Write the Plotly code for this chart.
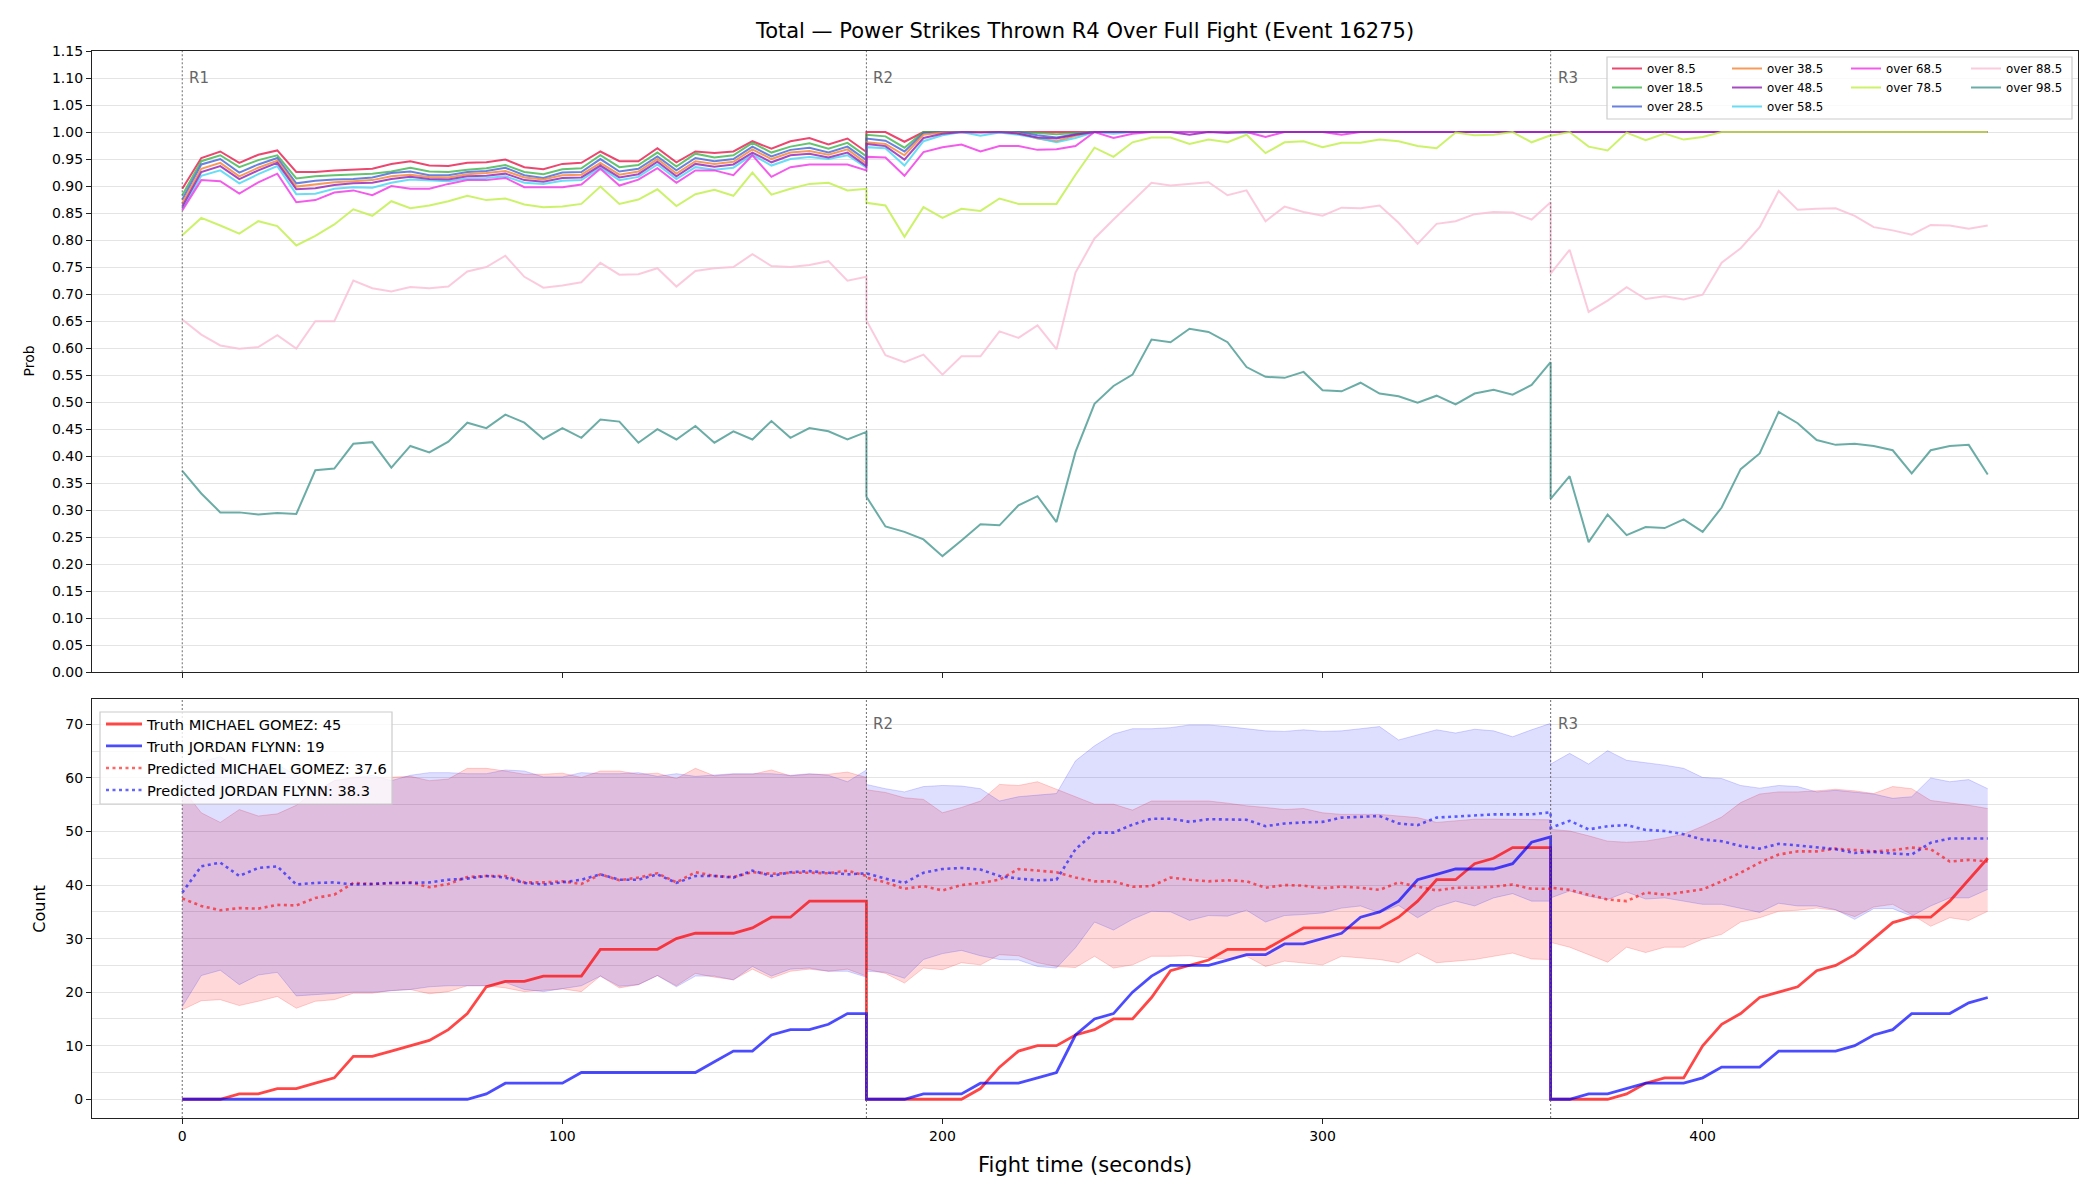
import plotly.graph_objects as go

# ---------------- data ----------------
time_s = list(range(0, 181, 5)) + list(range(180, 361, 5)) + list(range(360, 476, 5))
round_starts = [0, 180, 360]
round_labels = ["R1", "R2", "R3"]

threshold_names = ["over 8.5", "over 18.5", "over 28.5", "over 38.5", "over 48.5",
                   "over 58.5", "over 68.5", "over 78.5", "over 88.5", "over 98.5"]

over_8_5 = [.895,.952,.964,.943,.958,.966,.926,.926,.929,.931,.932,.941,.946,.938,.937,.943,.944,.949,.935,.931,.941,.943,.964,.946,.946,.970,.944,.964,.961,.964,.983,.969,.983,.989,.977,.988,.963,
            1.0,1.0,.982,1.0,1.0,1.0,1.0,1.0,1.0,1.0,1.0,1.0,1.0,1.0,1.0,1.0,1.0,1.0,1.0,1.0,1.0,1.0,1.0,1.0,1.0,1.0,1.0,1.0,1.0,1.0,1.0,1.0,1.0,1.0,1.0,1.0,1.0,
            1.0,1.0,1.0,1.0,1.0,1.0,1.0,1.0,1.0,1.0,1.0,1.0,1.0,1.0,1.0,1.0,1.0,1.0,1.0,1.0,1.0,1.0,1.0,1.0]
over_18_5 = [.883,.946,.957,.935,.948,.957,.914,.918,.920,.921,.923,.927,.934,.927,.926,.930,.933,.939,.926,.922,.931,.933,.957,.935,.939,.962,.936,.960,.953,.957,.980,.962,.973,.979,.969,.980,.955,
             .995,.992,.971,1.0,1.0,1.0,1.0,1.0,1.0,.998,.996,.998,1.0,1.0,1.0,1.0,1.0,1.0,1.0,1.0,1.0,1.0,1.0,1.0,1.0,1.0,1.0,1.0,1.0,1.0,1.0,1.0,1.0,1.0,1.0,1.0,1.0,
             1.0,1.0,1.0,1.0,1.0,1.0,1.0,1.0,1.0,1.0,1.0,1.0,1.0,1.0,1.0,1.0,1.0,1.0,1.0,1.0,1.0,1.0,1.0,1.0]
over_28_5 = [.875,.940,.950,.925,.940,.952,.905,.910,.912,.913,.916,.924,.927,.920,.920,.926,.928,.934,.920,.915,.925,.926,.950,.927,.932,.955,.929,.952,.946,.950,.973,.955,.967,.971,.962,.973,.948,
             .988,.984,.964,.998,1.0,1.0,1.0,1.0,1.0,.994,.990,.996,1.0,1.0,1.0,1.0,1.0,1.0,1.0,1.0,1.0,1.0,1.0,1.0,1.0,1.0,1.0,1.0,1.0,1.0,1.0,1.0,1.0,1.0,1.0,1.0,1.0,
             1.0,1.0,1.0,1.0,1.0,1.0,1.0,1.0,1.0,1.0,1.0,1.0,1.0,1.0,1.0,1.0,1.0,1.0,1.0,1.0,1.0,1.0,1.0,1.0]
over_38_5 = [.868,.932,.943,.918,.934,.947,.899,.903,.907,.909,.911,.918,.921,.917,.916,.922,.924,.928,.916,.912,.920,.921,.943,.921,.927,.950,.923,.946,.941,.945,.968,.950,.962,.965,.958,.968,.942,
             .981,.978,.957,.995,.999,1.0,1.0,1.0,.998,.988,.983,.993,1.0,1.0,1.0,1.0,1.0,1.0,1.0,1.0,1.0,1.0,1.0,1.0,1.0,1.0,1.0,1.0,1.0,1.0,1.0,1.0,1.0,1.0,1.0,1.0,1.0,
             1.0,1.0,1.0,1.0,1.0,1.0,1.0,1.0,1.0,1.0,1.0,1.0,1.0,1.0,1.0,1.0,1.0,1.0,1.0,1.0,1.0,1.0,1.0,1.0]
over_48_5 = [.862,.926,.937,.913,.929,.943,.894,.896,.902,.905,.906,.913,.917,.913,.912,.918,.919,.923,.911,.908,.915,.916,.938,.916,.922,.945,.918,.941,.936,.940,.962,.944,.957,.960,.953,.962,.937,
             .978,.974,.949,.989,.997,1.0,.999,1.0,.997,.990,.988,.995,1.0,1.0,1.0,1.0,1.0,.995,1.0,.998,1.0,1.0,1.0,1.0,1.0,1.0,1.0,1.0,1.0,1.0,1.0,1.0,1.0,1.0,1.0,1.0,1.0,
             1.0,1.0,1.0,1.0,1.0,1.0,1.0,1.0,1.0,1.0,1.0,1.0,1.0,1.0,1.0,1.0,1.0,1.0,1.0,1.0,1.0,1.0,1.0,1.0]
over_58_5 = [.858,.919,.929,.905,.922,.937,.885,.886,.895,.898,.897,.906,.912,.910,.909,.914,.915,.918,.906,.904,.910,.911,.934,.911,.917,.940,.913,.935,.930,.934,.958,.938,.950,.954,.950,.957,.934,
             .972,.970,.938,.983,.994,1.0,.993,.999,.995,.989,.981,.989,1.0,.997,1.0,1.0,1.0,1.0,1.0,1.0,.998,1.0,1.0,1.0,1.0,1.0,1.0,1.0,1.0,1.0,1.0,1.0,1.0,1.0,1.0,1.0,1.0,
             1.0,1.0,1.0,1.0,1.0,1.0,1.0,1.0,1.0,1.0,1.0,1.0,1.0,1.0,1.0,1.0,1.0,1.0,1.0,1.0,1.0,1.0,1.0,1.0]
over_68_5 = [.855,.911,.909,.886,.907,.923,.870,.874,.888,.892,.883,.900,.895,.895,.904,.911,.911,.915,.898,.898,.898,.903,.932,.901,.912,.933,.906,.929,.929,.920,.957,.917,.935,.940,.940,.940,.929,
             .954,.953,.919,.963,.972,.977,.964,.974,.974,.967,.968,.974,1.0,.989,.997,1.0,1.0,1.0,1.0,1.0,1.0,.991,1.0,1.0,1.0,.995,1.0,1.0,1.0,1.0,1.0,1.0,1.0,1.0,1.0,1.0,1.0,
             1.0,1.0,1.0,1.0,1.0,1.0,1.0,1.0,1.0,1.0,1.0,1.0,1.0,1.0,1.0,1.0,1.0,1.0,1.0,1.0,1.0,1.0,1.0,1.0]
over_78_5 = [.809,.841,.827,.812,.835,.826,.790,.808,.829,.857,.845,.872,.859,.864,.872,.882,.874,.877,.866,.861,.862,.867,.899,.867,.875,.894,.863,.885,.893,.882,.925,.884,.895,.904,.906,.892,.895,
             .869,.864,.806,.861,.841,.858,.854,.877,.867,.867,.867,.921,.971,.954,.981,.990,.990,.978,.986,.981,.995,.961,.981,.983,.972,.980,.980,.986,.983,.974,.970,.999,.994,.995,1.0,.981,.994,
             .993,1.0,.973,.966,.999,.985,.997,.986,.991,1.0,1.0,1.0,1.0,1.0,1.0,1.0,1.0,1.0,1.0,1.0,1.0,1.0,1.0,1.0]
over_88_5 = [.653,.625,.605,.599,.602,.624,.599,.650,.650,.725,.711,.705,.713,.711,.714,.742,.750,.771,.732,.712,.716,.722,.758,.736,.737,.748,.714,.743,.748,.750,.774,.752,.750,.754,.761,.725,.732,
             .651,.587,.574,.588,.551,.585,.585,.631,.619,.642,.598,.740,.803,.838,.872,.906,.901,.904,.907,.883,.892,.835,.862,.852,.845,.860,.859,.864,.832,.793,.830,.835,.848,.852,.851,.838,.870,
             .738,.782,.667,.688,.713,.691,.696,.690,.699,.758,.785,.824,.891,.856,.858,.859,.845,.824,.818,.810,.828,.827,.821,.827]
over_98_5 = [.373,.331,.296,.296,.292,.295,.293,.374,.377,.423,.426,.379,.419,.407,.427,.462,.452,.477,.462,.432,.452,.434,.468,.464,.425,.450,.431,.456,.425,.446,.431,.465,.434,.452,.446,.431,.445,
             .325,.270,.260,.246,.215,.244,.274,.272,.309,.326,.278,.408,.497,.530,.551,.616,.611,.636,.630,.611,.565,.547,.545,.556,.522,.520,.536,.516,.511,.499,.512,.496,.516,.523,.514,.532,.574,
             .321,.363,.241,.292,.254,.269,.267,.283,.260,.305,.376,.405,.482,.461,.430,.421,.423,.419,.411,.368,.411,.419,.421,.366]

truth_gomez = [0,0,0,1,1,2,2,3,4,8,8,9,10,11,13,16,21,22,22,23,23,23,28,28,28,28,30,31,31,31,32,34,34,37,37,37,37,
               0,0,0,0,0,0,2,6,9,10,10,12,13,15,15,19,24,25,26,28,28,28,30,32,32,32,32,32,34,37,41,41,44,45,47,47,47,
               0,0,0,0,1,3,4,4,10,14,16,19,20,21,24,25,27,30,33,34,34,37,41,45]
truth_flynn = [0,0,0,0,0,0,0,0,0,0,0,0,0,0,0,0,1,3,3,3,3,5,5,5,5,5,5,5,7,9,9,12,13,13,14,16,16,
               0,0,0,1,1,1,3,3,3,4,5,12,15,16,20,23,25,25,25,26,27,27,29,29,30,31,34,35,37,41,42,43,43,43,44,48,49,
               0,0,1,1,2,3,3,3,4,6,6,6,9,9,9,9,10,12,13,16,16,16,18,19]
pred_gomez = [37.5,36.1,35.3,35.7,35.6,36.3,36.2,37.6,38.2,40.4,40.2,40.4,40.5,39.6,40.2,41.5,41.7,41.7,40.5,40.5,40.7,40.2,42.0,40.9,41.4,42.2,40.5,42.4,41.7,41.5,42.4,42.1,42.3,42.3,42.2,42.7,41.7,
              41.4,40.5,39.3,39.8,39.0,40.0,40.4,41.0,43.0,42.7,42.4,41.4,40.7,40.7,39.7,39.8,41.4,41.0,40.7,40.9,40.7,39.5,40.0,39.9,39.4,39.7,39.5,39.1,40.5,39.7,39.0,39.5,39.5,39.7,40.1,39.3,39.3,
              39.5,39.1,38.2,37.3,37.0,38.6,38.2,38.7,39.2,40.7,42.3,44.2,45.7,46.3,46.3,46.8,46.5,46.3,46.5,47.0,46.7,44.4,44.7,44.4]
pred_flynn = [38.6,43.5,44.2,41.7,43.2,43.5,40.1,40.4,40.5,40.1,40.2,40.4,40.4,40.5,41.0,41.2,41.7,41.4,40.4,40.1,40.5,41.0,42.0,41.0,41.0,42.0,40.4,41.7,41.7,41.4,42.7,41.7,42.4,42.6,42.3,42.0,42.2,
              42.2,41.2,40.4,42.3,43.0,43.2,42.9,41.7,41.2,40.9,41.0,46.7,49.8,49.8,51.3,52.4,52.4,51.8,52.3,52.2,52.2,51.0,51.5,51.7,51.8,52.6,52.8,52.9,51.5,51.2,52.6,52.8,52.9,53.2,53.2,53.2,53.6,
              50.7,52.0,50.4,51.0,51.2,50.3,50.1,49.5,48.5,48.2,47.3,46.8,47.7,47.4,47.0,46.7,46.0,46.2,45.9,45.7,47.9,48.7,48.7,48.7]
gomez_low = [16.7,18.4,18.6,17.5,18.3,19.2,17.0,18.3,18.6,19.8,19.8,20.3,20.5,19.7,20.1,21.2,21.2,20.8,20.1,20.3,20.6,20.1,23.0,20.8,21.4,23.1,21.2,23.5,22.8,22.3,24.3,22.6,23.9,24.3,23.9,24.3,23.0,
             24.3,23.5,21.7,24.5,24.2,25.5,25.1,27.0,26.8,25.5,24.8,24.6,26.7,24.5,25.1,26.7,26.7,26.8,26.4,26.2,26.7,24.8,25.8,25.5,25.1,26.7,26.4,26.1,25.5,27.3,25.5,25.8,26.1,26.7,27.3,26.2,26.1,
             29.3,28.4,27.0,25.6,28.4,27.4,28.4,28.4,29.9,30.8,33.1,33.9,35.1,35.3,35.7,35.3,34.1,35.9,36.4,34.5,32.3,33.9,33.4,35.1]
gomez_high = [58.0,53.5,51.7,54.1,52.9,53.3,54.9,57.5,59.5,60.2,60.0,60.1,60.3,59.5,59.8,61.8,61.8,61.3,60.7,60.7,60.9,60.1,61.3,61.3,60.7,60.9,59.9,61.8,60.4,60.7,60.7,61.5,60.4,60.7,60.7,61.1,60.1,
              57.8,57.3,56.3,56.0,53.5,54.5,55.7,58.8,58.6,59.3,57.9,56.5,55.1,55.1,54.0,55.7,55.7,55.7,55.7,55.3,54.8,54.5,54.1,54.3,53.5,53.2,53.2,53.2,52.9,52.6,51.7,52.0,52.3,52.3,52.3,52.3,52.2,
              50.4,50.1,49.2,48.2,48.0,48.2,48.8,49.5,51.0,52.7,55.4,57.0,57.4,57.4,57.6,57.9,57.6,57.1,58.4,58.0,55.8,55.4,54.9,54.3]
flynn_low = [17.3,23.1,24.1,21.4,23.2,23.7,19.3,19.5,19.8,20.0,20.0,20.3,20.5,21.0,21.2,21.2,21.2,21.8,20.5,20.1,20.6,21.2,23.0,21.1,21.4,23.1,21.0,23.0,23.0,22.3,24.8,23.0,24.3,24.5,23.9,23.9,22.8,
             23.9,23.7,22.6,26.1,27.2,27.8,26.8,26.1,26.0,24.8,24.5,28.3,33.1,31.6,33.6,35.1,35.0,33.4,34.3,34.2,35.3,33.1,34.3,34.5,34.8,35.7,36.1,34.8,36.2,33.9,35.9,37.0,36.1,37.6,38.4,37.0,37.0,
             37.6,38.9,37.9,37.3,38.7,37.4,37.6,37.0,36.4,36.4,35.6,34.9,36.6,36.1,36.1,35.4,33.6,35.6,35.6,34.2,36.1,37.6,37.6,39.2]
flynn_high = [60.0,63.0,64.0,61.5,62.5,62.5,60.5,57.5,59.5,60.0,60.5,59.5,60.5,61.0,61.0,60.8,60.8,61.5,61.3,60.2,60.2,61.0,60.8,60.8,61.0,60.3,60.8,60.3,60.5,60.8,60.8,60.8,60.5,60.8,60.5,59.3,61.5,
              58.8,58.0,57.4,58.4,58.6,58.5,58.0,55.7,56.5,56.8,57.1,63.2,66.0,68.2,69.2,69.2,69.4,69.9,69.9,69.6,69.2,68.8,68.7,69.0,68.7,68.8,69.2,69.6,67.1,68.0,69.0,68.4,69.1,68.8,67.7,69.0,70.2,
              62.6,64.6,62.6,65.1,63.3,62.9,62.4,61.8,60.1,59.9,58.6,58.1,58.6,58.4,57.4,57.7,57.3,57.0,56.2,56.5,60.0,59.3,59.7,58.0]

bottom_names = ["Truth MICHAEL GOMEZ: 45", "Truth JORDAN FLYNN: 19",
                "Predicted MICHAEL GOMEZ: 37.6", "Predicted JORDAN FLYNN: 38.3"]

# ---------------- styling ----------------
FONT = "DejaVu Sans"
line_colors = ["rgba(230,25,75,0.8)", "rgba(60,180,75,0.8)", "rgba(67,99,216,0.8)",
               "rgba(245,130,49,0.8)", "rgba(145,30,180,0.8)", "rgba(66,212,244,0.8)",
               "rgba(240,50,230,0.8)", "rgba(191,239,69,0.8)", "rgba(250,190,212,0.8)",
               "rgba(70,153,144,0.8)"]
legend_of = ["legend", "legend", "legend", "legend2", "legend2", "legend2",
             "legend3", "legend3", "legend4", "legend4"]
series = [over_8_5, over_18_5, over_28_5, over_38_5, over_48_5, over_58_5,
          over_68_5, over_78_5, over_88_5, over_98_5]
draw_order = [0, 1, 2, 3, 5, 6, 4, 7, 8, 9]

fig = go.Figure()

for i in draw_order:
    fig.add_trace(go.Scatter(
        x=time_s, y=series[i], mode="lines", name=threshold_names[i],
        line=dict(color=line_colors[i], width=2), xaxis="x2", yaxis="y2",
        legend=legend_of[i], legendrank=i + 1))

# bottom panel: bands
for low, high, fc, lc in [(gomez_low, gomez_high, "rgba(255,0,0,0.15)", "rgba(255,0,0,0.18)"),
                          (flynn_low, flynn_high, "rgba(0,0,255,0.13)", "rgba(0,0,255,0.16)")]:
    fig.add_trace(go.Scatter(x=time_s, y=low, mode="lines", line=dict(color=lc, width=1),
                             showlegend=False, xaxis="x", yaxis="y", hoverinfo="skip"))
    fig.add_trace(go.Scatter(x=time_s, y=high, mode="lines", line=dict(color=lc, width=1),
                             fill="tonexty", fillcolor=fc, showlegend=False,
                             xaxis="x", yaxis="y", hoverinfo="skip"))

fig.add_trace(go.Scatter(x=time_s, y=truth_gomez, mode="lines", name=bottom_names[0],
                         line=dict(color="rgba(255,0,0,0.72)", width=2.8),
                         xaxis="x", yaxis="y", legend="legend5"))
fig.add_trace(go.Scatter(x=time_s, y=truth_flynn, mode="lines", name=bottom_names[1],
                         line=dict(color="rgba(0,0,255,0.7)", width=2.8),
                         xaxis="x", yaxis="y", legend="legend5"))
fig.add_trace(go.Scatter(x=time_s, y=pred_gomez, mode="lines", name=bottom_names[2],
                         line=dict(color="rgba(255,0,0,0.6)", width=2.6, dash="3px,3.5px"),
                         xaxis="x", yaxis="y", legend="legend5"))
fig.add_trace(go.Scatter(x=time_s, y=pred_flynn, mode="lines", name=bottom_names[3],
                         line=dict(color="rgba(0,0,255,0.6)", width=2.6, dash="3px,3.5px"),
                         xaxis="x", yaxis="y", legend="legend5"))

# ---------------- layout ----------------
L, R, T, B = 92, 22, 51, 82
W, H = 2100, 1200
PW, PH = W - L - R, H - T - B


def px_x(px):
    return (px - L) / PW


def px_y(py):
    return (H - B - py) / PH


shapes = []
for t in round_starts:
    for xr, yr in [("x2", "y2 domain"), ("x", "y domain")]:
        shapes.append(dict(type="line", xref=xr, yref=yr, x0=t, x1=t, y0=0, y1=1,
                           line=dict(color="rgba(90,90,90,0.8)", width=1.1, dash="2px,2px"),
                           layer="above"))
# legend boxes
shapes.append(dict(type="rect", xref="paper", yref="paper",
                   x0=px_x(1607), x1=px_x(2072), y0=px_y(119), y1=px_y(57),
                   fillcolor="rgba(255,255,255,0.8)", line=dict(color="#cccccc", width=1.2),
                   layer="above"))
shapes.append(dict(type="rect", xref="paper", yref="paper",
                   x0=px_x(100), x1=px_x(392), y0=px_y(804), y1=px_y(712),
                   fillcolor="rgba(255,255,255,0.8)", line=dict(color="#cccccc", width=1.2),
                   layer="above"))

annotations = []
for t, lab in zip(round_starts, round_labels):
    annotations.append(dict(x=t, y=1.10, xref="x2", yref="y2", text=lab, showarrow=False,
                            xanchor="left", yanchor="middle", xshift=5,
                            font=dict(family=FONT, size=15, color="#666666")))
for t, lab in zip(round_starts[1:], round_labels[1:]):
    annotations.append(dict(x=t, y=70, xref="x", yref="y", text=lab, showarrow=False,
                            xanchor="left", yanchor="middle", xshift=5,
                            font=dict(family=FONT, size=15, color="#666666")))
annotations.append(dict(x=px_x(28), y=px_y(361.5), xref="paper", yref="paper", text="Prob",
                        showarrow=False, textangle=-90, xanchor="center", yanchor="middle",
                        font=dict(family=FONT, size=14, color="#000")))
annotations.append(dict(x=px_x(40), y=px_y(908.7), xref="paper", yref="paper", text="Count",
                        showarrow=False, textangle=-90, xanchor="center", yanchor="middle",
                        font=dict(family=FONT, size=16, color="#000")))
annotations.append(dict(x=0.5, y=px_y(1165), xref="paper", yref="paper",
                        text="Fight time (seconds)", showarrow=False,
                        xanchor="center", yanchor="middle",
                        font=dict(family=FONT, size=21, color="#000")))

axis_common = dict(showline=True, linecolor="#222222", linewidth=1.3, mirror=True,
                   ticks="outside", ticklen=5, tickwidth=1.2, tickcolor="#222222",
                   zeroline=False, tickfont=dict(family=FONT, size=14, color="#000"))

legend_common = dict(bgcolor="rgba(0,0,0,0)", borderwidth=0, xanchor="left", yanchor="top",
                     font=dict(family=FONT, size=11.8, color="#000"), itemwidth=30,
                     tracegroupgap=0, traceorder="normal")

fig.update_layout(
    width=W, height=H,
    margin=dict(l=L, r=R, t=T, b=B),
    paper_bgcolor="white", plot_bgcolor="white",
    font=dict(family=FONT, color="#000"),
    title=dict(text="Total \u2014 Power Strikes Thrown R4 Over Full Fight (Event 16275)",
               x=0.5, xref="paper", xanchor="center",
               y=1 - 30.5 / H, yref="container", yanchor="middle",
               font=dict(family=FONT, size=21, color="#000")),
    xaxis=dict(domain=[0, 1], anchor="y", range=[-23.75, 498.75],
               tickvals=[0, 100, 200, 300, 400], showgrid=False, **axis_common),
    yaxis=dict(domain=[0, px_y(699)], anchor="x", range=[-3.5, 74.75],
               tickvals=[0, 10, 20, 30, 40, 50, 60, 70], showgrid=True,
               gridcolor="#e4e4e4", gridwidth=1,
               minor=dict(tickvals=[5, 15, 25, 35, 45, 55, 65], showgrid=True,
                          gridcolor="#e4e4e4", gridwidth=1, ticks=""),
               **axis_common),
    xaxis2=dict(domain=[0, 1], anchor="y2", matches="x", range=[-23.75, 498.75],
                tickvals=[0, 100, 200, 300, 400], showticklabels=False, showgrid=False,
                **axis_common),
    yaxis2=dict(domain=[px_y(672.3), 1], anchor="x2", range=[0, 1.15],
                tickvals=[round(0.05 * k, 2) for k in range(24)], tickformat=".2f",
                showgrid=True, gridcolor="#e4e4e4", gridwidth=1, **axis_common),
    shapes=shapes,
    annotations=annotations,
    legend=dict(x=px_x(1607), y=px_y(54), **legend_common),
    legend2=dict(x=px_x(1727), y=px_y(54), **legend_common),
    legend3=dict(x=px_x(1846), y=px_y(54), **legend_common),
    legend4=dict(x=px_x(1966), y=px_y(54), **legend_common),
    legend5=dict(x=px_x(101), y=px_y(708), bgcolor="rgba(0,0,0,0)", borderwidth=0,
                 xanchor="left", yanchor="top", itemwidth=36, tracegroupgap=0,
                 font=dict(family=FONT, size=14.6, color="#000")),
    showlegend=True,
)

fig.write_html("out.html")
